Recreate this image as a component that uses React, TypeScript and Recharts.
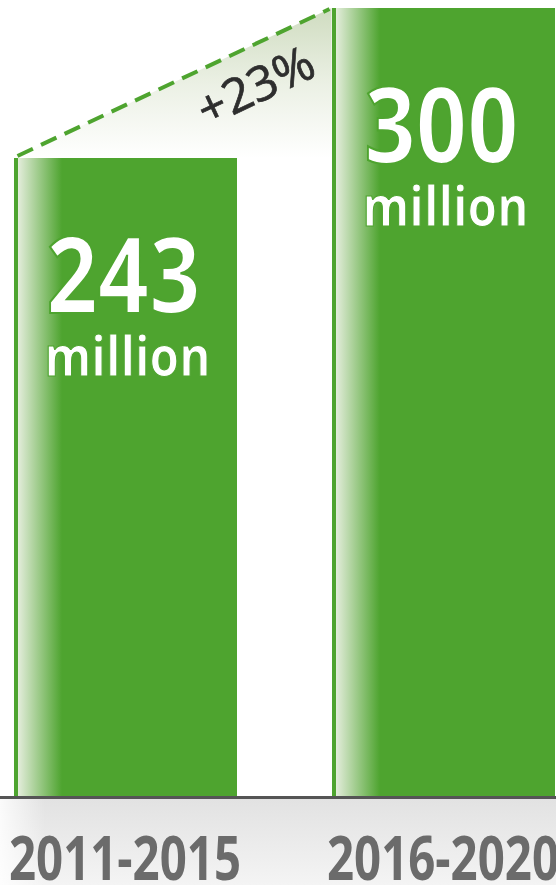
import React from 'react';
import { BarChart, Bar, XAxis, YAxis, LabelList, ReferenceLine } from 'recharts';

// ---- data ----
const periods = ['2011-2015', '2016-2020'];
const valuesMillion = [243, 300];
const unitLabel = 'million';
const changeLabel = '+23%';
const yDomain = [0, 300];

const data = periods.map((p, i) => ({ period: p, value: valuesMillion[i] }));

// ---- style ----
const GREEN = '#4ea42f';
const BAR_SIZE = 223;
const CHART_W = 636;
const CHART_H = 885;
const SHIFT_X = -34;
const FONT = "'Open Sans', 'DejaVu Sans', sans-serif";

// thin the bold glyphs slightly by painting a background-coloured stroke over their edges
function BarValueLabel(props: any) {
  const { x, y, width, value } = props;
  const cx = Number(x) + Number(width) / 2;
  const top = Number(y);
  return (
    <g>
      <text
        x={cx - 2}
        y={top + 155}
        textAnchor="middle"
        fill="#ffffff"
        stroke={GREEN}
        strokeWidth={2.2}
        fontFamily={FONT}
        fontWeight={700}
        fontSize={106}
        textLength={154}
        lengthAdjust="spacingAndGlyphs"
      >
        {value}
      </text>
      <text
        x={cx + 2}
        y={top + 218}
        textAnchor="middle"
        fill="#ffffff"
        stroke={GREEN}
        strokeWidth={1.2}
        fontFamily={FONT}
        fontWeight={700}
        fontSize={55}
        textLength={166}
        lengthAdjust="spacingAndGlyphs"
      >
        {unitLabel}
      </text>
    </g>
  );
}

function PeriodTick(props: any) {
  const { x, y, payload } = props;
  return (
    <text
      x={x}
      y={Number(y) + 82}
      textAnchor="middle"
      fill="#6b6b6b"
      fontFamily={FONT}
      fontWeight={700}
      fontSize={60}
      textLength={232}
      lengthAdjust="spacingAndGlyphs"
    >
      {payload.value}
    </text>
  );
}

function ChangeShape(props: any) {
  const { x1, y1, x2, y2 } = props;
  const dx = -BAR_SIZE / 2;
  const ax = Number(x1) + dx;
  const ay = Number(y1);
  const bx = Number(x2) + dx;
  const by = Number(y2);
  const ang = (Math.atan2(by - ay, bx - ax) * 180) / Math.PI;
  const t = 0.71;
  const px = ax + (bx - ax) * t;
  const py = ay + (by - ay) * t;
  return (
    <g>
      <polygon points={`${ax},${ay} ${bx},${by} ${bx},${ay}`} fill="url(#changeGrad)" />
      <line
        x1={ax + 4}
        y1={ay - 2}
        x2={bx - 2}
        y2={by + 1}
        stroke={GREEN}
        strokeWidth={4}
        strokeDasharray="17 9"
      />
      <text
        x={px}
        y={py + 55}
        transform={`rotate(${ang} ${px} ${py})`}
        textAnchor="middle"
        fill="#2e2e2e"
        stroke="#2e2e2e"
        strokeWidth={0.7}
        fontFamily={FONT}
        fontWeight={400}
        fontSize={48}
        textLength={124}
        lengthAdjust="spacingAndGlyphs"
      >
        {changeLabel}
      </text>
    </g>
  );
}

export default function App() {
  return (
    <div
      style={{
        position: 'absolute',
        left: 0,
        top: 0,
        width: 556,
        height: 885,
        overflow: 'hidden',
        background: '#ffffff',
      }}
    >
      <svg width={0} height={0} style={{ position: 'absolute' }}>
        <defs>
          <linearGradient id="barGrad" x1="0" y1="0" x2="1" y2="0">
            <stop offset="0" stopColor={GREEN} />
            <stop offset="0.017" stopColor={GREEN} />
            <stop offset="0.02" stopColor="#e2ecd9" />
            <stop offset="0.215" stopColor={GREEN} />
            <stop offset="1" stopColor={GREEN} />
          </linearGradient>
          <linearGradient id="changeGrad" x1="0" y1="0" x2="0" y2="1">
            <stop offset="0" stopColor="#cfdcc0" />
            <stop offset="0.5" stopColor="#ebf0e4" />
            <stop offset="1" stopColor="#ffffff" />
          </linearGradient>
        </defs>
      </svg>
      <div
        style={{
          position: 'absolute',
          left: 0,
          top: 799,
          width: 556,
          height: 86,
          background:
            'linear-gradient(to right, rgba(255,255,255,0.85), rgba(255,255,255,0) 45px), linear-gradient(to bottom, #e2e2e2, #f4f4f4)',
        }}
      />
      <div style={{ position: 'absolute', left: SHIFT_X, top: 0 }}>
        <BarChart
          width={CHART_W}
          height={CHART_H}
          data={data}
          margin={{ top: 8, right: 0, bottom: 0, left: 0 }}
        >
          <YAxis hide type="number" domain={yDomain} />
          <XAxis
            dataKey="period"
            height={87.5}
            axisLine={{ stroke: '#555555', strokeWidth: 3 }}
            tickLine={false}
            tickSize={0}
            tickMargin={0}
            interval={0}
            tick={(p: any) => <PeriodTick {...p} />}
          />
          <Bar dataKey="value" fill="url(#barGrad)" barSize={BAR_SIZE} isAnimationActive={false}>
            <LabelList dataKey="value" content={(p: any) => <BarValueLabel {...p} />} />
          </Bar>
          <ReferenceLine
            segment={[
              { x: periods[0], y: valuesMillion[0] },
              { x: periods[1], y: valuesMillion[1] },
            ]}
            ifOverflow="visible"
            shape={(p: any) => <ChangeShape {...p} />}
          />
        </BarChart>
      </div>
    </div>
  );
}
